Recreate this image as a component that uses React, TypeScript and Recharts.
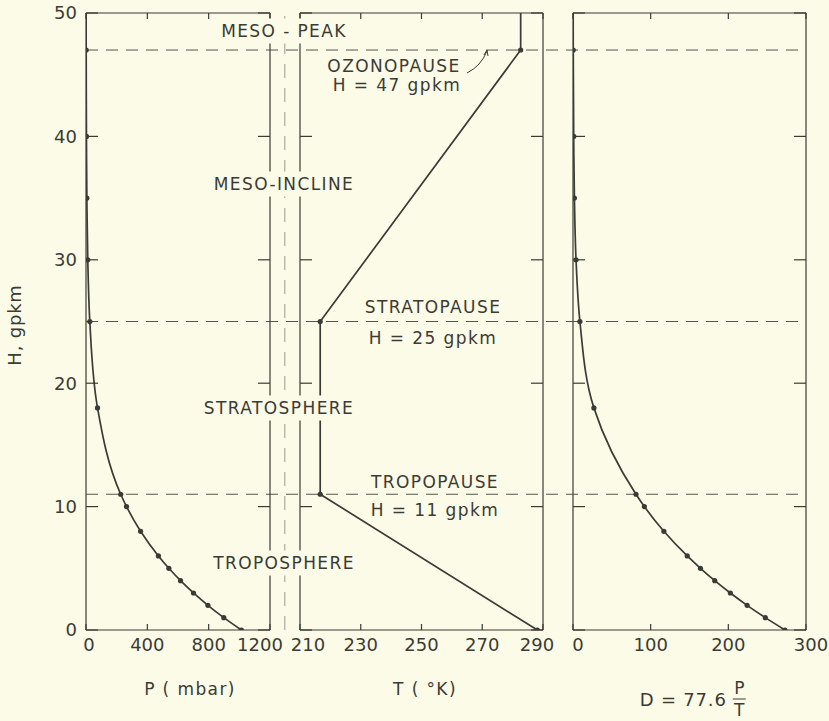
import React from 'react';
import { ComposedChart, Scatter, XAxis, YAxis, ReferenceLine } from 'recharts';

// ---------------- data ----------------
const heights = [0, 1, 2, 3, 4, 5, 6, 8, 10, 11, 18, 25, 30, 35, 40, 47, 50];
const pressure = [1013.25, 898.76, 795.01, 701.21, 616.6, 540.48, 472.17, 356.0, 264.36, 226.32, 75.05, 24.88, 11.61, 5.68, 2.9, 1.2, 0.84];
const refractivity = [272.9, 247.6, 224.2, 202.6, 182.5, 164.1, 147.1, 117.0, 91.9, 81.1, 26.9, 8.9, 3.9, 1.8, 0.9, 0.3, 0.2];
const tempHeights = [0, 11, 25, 47, 50];
const temperature = [288.15, 216.65, 216.65, 282.65, 282.65];

const hTicks = [0, 10, 20, 30, 40, 50];
const pTicks = [0, 400, 800, 1200];
const tTicks = [210, 230, 250, 270, 290];
const dTicks = [0, 100, 200, 300];
const levelHeights = [47, 25, 11];

const pData = heights.map((h, i) => ({ h, v: pressure[i] }));
const dData = heights.map((h, i) => ({ h, v: refractivity[i] }));
const tData = tempHeights.map((h, i) => ({ h, v: temperature[i] }));
const levelData = levelHeights.map((h) => ({ h, v: 0 }));

// ---------------- style ----------------
const INK = '#3b3b36';
const BG = '#fbfbe7';
const FONT = '"DejaVu Sans", "Liberation Sans", sans-serif';
const W = 829;
const H = 721;
const H_MAX = 50;

const Dot = (props: any) => {
  const { cx, cy, payload } = props;
  if (payload.h >= H_MAX) return <g />;
  return <circle cx={cx} cy={cy} r={2.6} fill={INK} />;
};

const NoLabel = () => <g />;

const makeTick = (shift: Record<number, number>) => (props: any) => {
  const { x, y, payload } = props;
  const dx = shift[payload.value] ?? 0;
  return (
    <text x={x + dx} y={y} dy="0.71em" textAnchor="middle" fill={INK} fontSize={18} fontFamily={FONT}>
      {payload.value}
    </text>
  );
};

type PanelProps = {
  data: { h: number; v: number }[];
  domain: [number, number];
  ticks: number[];
  left: number;
  right: number;
  showH: boolean;
  curve: any;
  shift: Record<number, number>;
  children?: React.ReactNode;
};

const frame = { stroke: INK, strokeWidth: 1.2 };

const Panel = ({ data, domain, ticks, left, right, showH, curve, shift, children }: PanelProps) => (
  <ComposedChart
    width={W}
    height={H}
    margin={{ top: 13, bottom: 51, left: showH ? left - 60 : left, right: W - right }}
    style={{ position: 'absolute', left: 0, top: 0 }}
  >
    <XAxis xAxisId="b" type="number" dataKey="v" domain={domain} ticks={ticks} orientation="bottom" height={40}
      axisLine={false} tickLine={false} tickSize={0} tickMargin={8} tick={makeTick(shift)} allowDataOverflow />
    <XAxis xAxisId="fb" type="number" dataKey="v" domain={domain} ticks={ticks} orientation="bottom" mirror
      {...frame} tickLine={frame} tickSize={6} tick={NoLabel} allowDataOverflow />
    <XAxis xAxisId="ft" type="number" dataKey="v" domain={domain} ticks={ticks} orientation="top" mirror
      {...frame} tickLine={frame} tickSize={6} tick={NoLabel} allowDataOverflow />
    {showH && (
      <YAxis yAxisId="lab" type="number" dataKey="h" domain={[0, H_MAX]} ticks={hTicks} width={60}
        axisLine={false} tickLine={false} tickSize={0} tickMargin={9} allowDataOverflow
        tick={{ fill: INK, fontSize: 18, fontFamily: FONT }} />
    )}
    <YAxis yAxisId="l" type="number" dataKey="h" domain={[0, H_MAX]} ticks={hTicks} mirror allowDataOverflow
      {...frame} tickLine={frame} tickSize={12} tick={NoLabel} />
    <YAxis yAxisId="r" orientation="right" type="number" dataKey="h" domain={[0, H_MAX]} ticks={hTicks} mirror allowDataOverflow
      {...frame} tickLine={frame} tickSize={12} tick={NoLabel} />
    {children}
    <Scatter
      data={data}
      xAxisId="b"
      yAxisId="l"
      line={{ stroke: INK, strokeWidth: 1.7 }}
      lineJointType={curve}
      shape={Dot}
      isAnimationActive={false}
    />
  </ComposedChart>
);

const annotations = [
  { text: 'MESO - PEAK', x: 284, y: 31, mask: true },
  { text: 'OZONOPAUSE', x: 394, y: 66, mask: false },
  { text: 'H = 47 gpkm', x: 397, y: 85, mask: false },
  { text: 'MESO-INCLINE', x: 284, y: 184, mask: true },
  { text: 'STRATOPAUSE', x: 433, y: 307, mask: false },
  { text: 'H = 25 gpkm', x: 433, y: 338, mask: false },
  { text: 'STRATOSPHERE', x: 279, y: 408, mask: true },
  { text: 'TROPOPAUSE', x: 435, y: 482, mask: false },
  { text: 'H = 11 gpkm', x: 435, y: 510, mask: false },
  { text: 'TROPOSPHERE', x: 284, y: 563, mask: true },
  { text: 'P ( mbar)', x: 190, y: 689, mask: false },
  { text: 'T ( °K)', x: 425, y: 689, mask: false },
];

const txt: React.CSSProperties = {
  position: 'absolute',
  transform: 'translate(-50%, -50%)',
  whiteSpace: 'nowrap',
  fontFamily: FONT,
  fontSize: 17,
  letterSpacing: 1.4,
  lineHeight: 1,
  color: INK,
};

export default function App() {
  return (
    <div style={{ position: 'absolute', left: 0, top: 0, width: W, height: H, background: BG, overflow: 'hidden' }}>
      <ComposedChart
        width={W}
        height={H}
        data={levelData}
        margin={{ top: 13, bottom: 91, left: 86, right: 23 }}
        style={{ position: 'absolute', left: 0, top: 0 }}
      >
        <XAxis type="number" dataKey="v" domain={[0, 1]} hide allowDataOverflow />
        <YAxis type="number" dataKey="h" domain={[0, H_MAX]} hide allowDataOverflow />
        {levelHeights.map((h) => (
          <ReferenceLine key={h} y={h} stroke="#55554f" strokeWidth={1} strokeDasharray="12 8" />
        ))}
      </ComposedChart>

      <Panel data={pData} domain={[0, 1200]} ticks={pTicks} left={86} right={270} showH curve="monotoneY" shift={{ 0: 3, 1200: -10 }} />
      <Panel data={tData} domain={[210, 290]} ticks={tTicks} left={300} right={543} showH={false} curve="linear" shift={{ 210: 8, 290: -6 }}>
        <ReferenceLine xAxisId="b" yAxisId="l" x={205} ifOverflow="visible" stroke="#9a9a90" strokeWidth={1} strokeDasharray="14 10" />
      </Panel>
      <Panel data={dData} domain={[0, 300]} ticks={dTicks} left={573} right={806} showH={false} curve="monotoneY" shift={{ 0: 5, 300: 5 }} />

      {annotations.map((a) => (
        <div
          key={a.text}
          style={{ ...txt, left: a.x, top: a.y, ...(a.mask ? { background: BG, padding: '4px 3px' } : {}) }}
        >
          {a.text}
        </div>
      ))}

      <div style={{ ...txt, left: 15, top: 325, transform: 'translate(-50%, -50%) rotate(-90deg)', fontSize: 18, letterSpacing: 0.8 }}>H, gpkm</div>

      <div style={{ ...txt, left: 693, top: 699, display: 'flex', alignItems: 'center', fontSize: 18, letterSpacing: 0.8 }}>
        <span>D = 77.6&nbsp;</span>
        <span style={{ display: 'inline-flex', flexDirection: 'column', alignItems: 'center', fontSize: 17 }}>
          <span style={{ borderBottom: `1.5px solid ${INK}`, padding: '0 1px 2px 1px' }}>P</span>
          <span style={{ paddingTop: 2 }}>T</span>
        </span>
      </div>

      <svg width={W} height={H} style={{ position: 'absolute', left: 0, top: 0, pointerEvents: 'none' }}>
        <path d="M 467 73 Q 481 66 487 51" fill="none" stroke={INK} strokeWidth={1} />
        <path d="M 484 55 L 487 50 L 488 56" fill="none" stroke={INK} strokeWidth={1} />
      </svg>
    </div>
  );
}
